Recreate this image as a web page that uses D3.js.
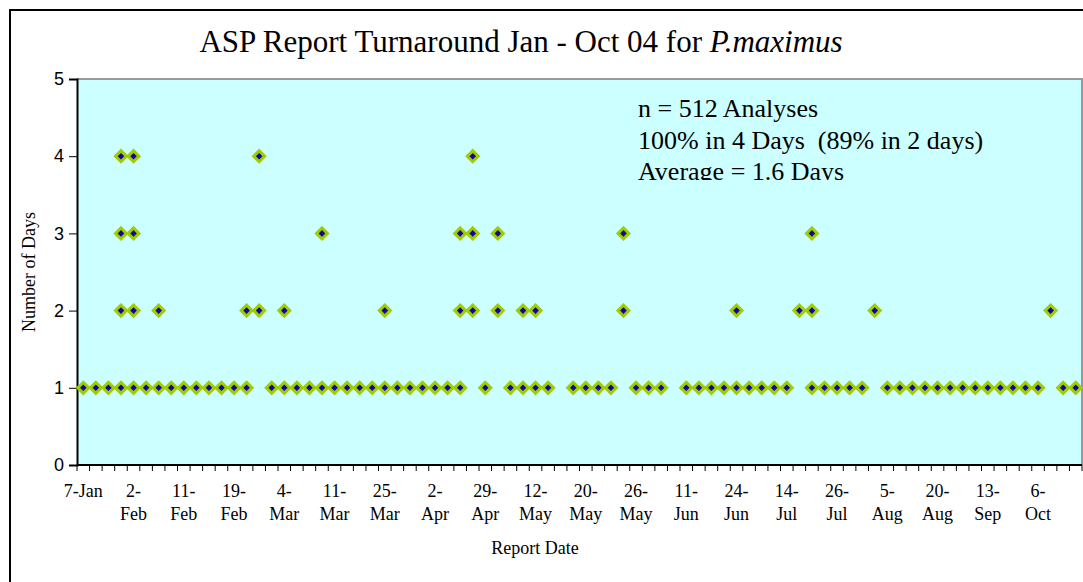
<!DOCTYPE html>
<html>
<head>
<meta charset="utf-8">
<script src="https://cdn.jsdelivr.net/npm/d3@7"></script>
<style>
  html, body { margin: 0; padding: 0; background: #fff; }
  svg { display: block; }
</style>
</head>
<body>
<svg id="chart" width="1083" height="582"></svg>
<script>
// ---- data ----
const titleMain = "ASP Report Turnaround Jan - Oct 04 for ";
const titleItalic = "P.maximus";
const annotationLines = ["n = 512 Analyses", "100% in 4 Days  (89% in 2 days)", "Average = 1.6 Days"];
const yTicks = [0, 1, 2, 3, 4, 5];
const tickLabels = ["7-Jan","2-Feb","11-Feb","19-Feb","4-Mar","11-Mar","25-Mar","2-Apr","29-Apr","12-May",
                    "20-May","26-May","11-Jun","24-Jun","14-Jul","26-Jul","5-Aug","20-Aug","13-Sep","6-Oct"];
// Turnaround (days) observed for each report date, in order (80 report dates)
const daysPerReport = [
  [1],[1],[1],[1,2,3,4],[1,2,3,4],[1],[1,2],[1],[1],[1],
  [1],[1],[1],[1,2],[2,4],[1],[1,2],[1],[1],[1,3],
  [1],[1],[1],[1],[1,2],[1],[1],[1],[1],[1],
  [1,2,3],[2,3,4],[1],[2,3],[1],[1,2],[1,2],[1],[],[1],
  [1],[1],[1],[2,3],[1],[1],[1],[],[1],[1],
  [1],[1],[1,2],[1],[1],[1],[1],[2],[1,2,3],[1],
  [1],[1],[1],[2],[1],[1],[1],[1],[1],[1],
  [1],[1],[1],[1],[1],[1],[1],[2],[1],[1]
];
const labelEvery = 4;

// ---- layout ----
const svg = d3.select("#chart");
const plot = { left: 77, top: 79, right: 1082, bottom: 465 };
const serif = "'Liberation Serif', 'Times New Roman', serif";
const sans = "'Liberation Sans', Arial, sans-serif";

// outer chart border
svg.append("rect").attr("x", 10).attr("y", 10).attr("width", 1100).attr("height", 600)
  .attr("fill", "#fff").attr("stroke", "#000").attr("stroke-width", 2);

const x = d3.scaleBand().domain(d3.range(daysPerReport.length))
  .range([plot.left, plot.right]).padding(0);
const y = d3.scaleLinear().domain([0, 5]).range([plot.bottom, plot.top]);

// plot area
svg.append("rect").attr("x", plot.left).attr("y", plot.top)
  .attr("width", plot.right - plot.left).attr("height", plot.bottom - plot.top)
  .attr("fill", "#CCFFFF");
svg.append("path")
  .attr("d", `M${plot.left},${plot.top}H${plot.right}V${plot.bottom}`)
  .attr("fill", "none").attr("stroke", "#999").attr("stroke-width", 2);

// title
const title = svg.append("text").attr("x", 521).attr("y", 52)
  .attr("text-anchor", "middle").attr("font-family", serif).attr("font-size", 31).attr("fill", "#000");
title.append("tspan").text(titleMain);
title.append("tspan").attr("font-style", "italic").text(titleItalic);

// annotation (text box clipped at bottom)
svg.append("clipPath").attr("id", "annClip").append("rect")
  .attr("x", 620).attr("y", 88).attr("width", 460).attr("height", 92);
const ann = svg.append("g").attr("clip-path", "url(#annClip)");
ann.selectAll("text").data(annotationLines).join("text")
  .attr("x", 638).attr("y", (d, i) => 117 + i * 31.5)
  .attr("font-family", serif).attr("font-size", 26).attr("fill", "#000")
  .style("white-space", "pre").attr("xml:space", "preserve")
  .text(d => d);

// y axis
const yAxis = d3.axisLeft(y).tickValues(yTicks).tickSize(8).tickPadding(5).tickFormat(d3.format("d"));
const gy = svg.append("g").attr("transform", `translate(${plot.left},0)`).call(yAxis);
gy.select(".domain").attr("stroke", "#000").attr("stroke-width", 2);
gy.selectAll(".tick line").attr("stroke", "#000").attr("stroke-width", 1);
gy.selectAll(".tick text").attr("font-family", sans).attr("font-size", 18).attr("fill", "#000");

// x axis: ticks at category boundaries
const boundaries = d3.range(daysPerReport.length + 1).map(i => plot.left + i * x.step());
const gx = svg.append("g");
gx.append("line").attr("x1", plot.left).attr("x2", plot.right)
  .attr("y1", plot.bottom).attr("y2", plot.bottom).attr("stroke", "#000").attr("stroke-width", 2);
gx.selectAll("line.tk").data(boundaries).join("line").attr("class", "tk")
  .attr("x1", d => d).attr("x2", d => d).attr("y1", plot.bottom).attr("y2", plot.bottom + 6)
  .attr("stroke", "#000").attr("stroke-width", 1);
const lbl = gx.selectAll("text.lbl").data(tickLabels).join("text").attr("class", "lbl")
  .attr("x", (d, i) => x(i * labelEvery) + x.bandwidth() / 2)
  .attr("y", 497).attr("text-anchor", "middle")
  .attr("font-family", serif).attr("font-size", 18).attr("fill", "#000");
lbl.each(function(d, i) {
  const t = d3.select(this);
  if (i === 0) { t.text(d); return; }
  const parts = d.split("-");
  t.append("tspan").attr("x", t.attr("x")).text(parts[0] + "-");
  t.append("tspan").attr("x", t.attr("x")).attr("dy", 23).text(parts[1]);
});

// axis titles
svg.append("text").attr("x", 535).attr("y", 554).attr("text-anchor", "middle")
  .attr("font-family", serif).attr("font-size", 18).attr("fill", "#000").text("Report Date");
svg.append("text").attr("transform", "translate(35,272) rotate(-90)").attr("text-anchor", "middle")
  .attr("font-family", serif).attr("font-size", 18).attr("fill", "#000").text("Number of Days");

// points
const points = daysPerReport.flatMap((vals, i) => vals.map(v => ({ i, v })));
const outer = 7.6, inner = 3.3;
const diamond = r => `M0,${-r}L${r},0L0,${r}L${-r},0Z`;
const pg = svg.append("g").selectAll("g").data(points).join("g")
  .attr("transform", d => `translate(${x(d.i) + x.bandwidth() / 2},${y(d.v)})`);
pg.append("path").attr("d", diamond(outer)).attr("fill", "#A2CC00");
pg.append("path").attr("d", diamond(inner)).attr("fill", "#0A0AA0");
</script>
</body>
</html>
